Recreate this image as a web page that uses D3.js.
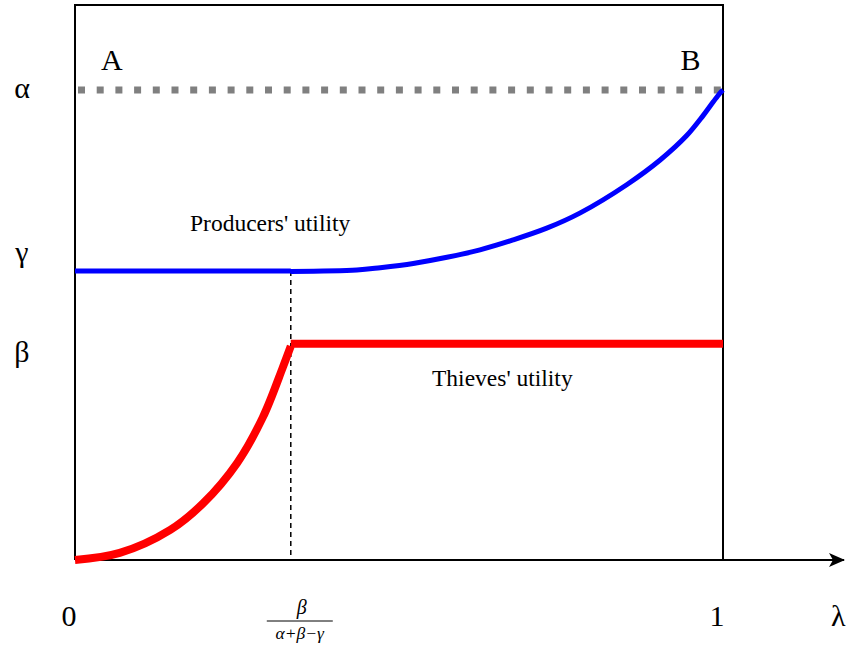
<!DOCTYPE html>
<html><head><meta charset="utf-8">
<script src="https://cdn.jsdelivr.net/npm/d3@7"></script>
<style>body{margin:0;background:#fff}svg{display:block}text{fill:#000}</style>
</head><body><svg id="c" width="849" height="648"></svg>
<script>
// data
const alphaLevel = 1.0, gammaLevel = 0.615, betaLevel = 0.46, lambdaStar = 0.333;
const producersLambda = [0.333, 0.435, 0.471, 0.522, 0.574, 0.625, 0.676, 0.728, 0.779, 0.852, 0.903, 0.944, 0.969, 0.985, 0.995, 1.0];
const producersValue  = [0.614, 0.617, 0.622, 0.631, 0.644, 0.660, 0.681, 0.706, 0.738, 0.799, 0.851, 0.903, 0.945, 0.975, 0.993, 1.0];
const producersFlatLambda = [0, 0.333];
const producersFlatValue = [0.615, 0.615];
const thievesLambda = [0, 0.069, 0.147, 0.198, 0.25, 0.290, 0.321, 0.333];
const thievesValue  = [0, 0.015, 0.064, 0.121, 0.206, 0.304, 0.411, 0.455];
const thievesFlatLambda = [0.333, 1.0];
const thievesFlatValue = [0.46, 0.46];
const yTickLabels = ['α', 'γ', 'β'];
const yTickValues = [alphaLevel, gammaLevel, betaLevel];
const yTickDy = [8, -9, 18];
const xTickLabels = ['0', '1', 'λ'];
const xTickValues = [0, 1, 1.178];
const cornerLabels = ['A', 'B'];
const cornerLambda = [0.057, 0.95];

const FONT = '"Liberation Serif", "Times New Roman", Times, serif';
const svg = d3.select('#c');
const x = d3.scaleLinear().domain([0, 1]).range([75, 723]);
const y = d3.scaleLinear().domain([0, 1]).range([560, 90]);

// frame
svg.append('path').attr('d', `M${x(0)},${y(0)}V5H${x(1)}V${y(0)}`).attr('fill', 'none').attr('stroke', '#000').attr('stroke-width', 2);
// x axis with arrow
svg.append('defs').append('marker').attr('id', 'arr').attr('viewBox', '0 0 16 14').attr('refX', 15).attr('refY', 7)
  .attr('markerWidth', 16).attr('markerHeight', 14).attr('markerUnits', 'userSpaceOnUse').attr('orient', 'auto')
  .append('path').attr('d', 'M0,0L16,7L0,14L4,7Z').attr('fill', '#000');
svg.append('line').attr('x1', x(0)).attr('x2', 844).attr('y1', y(0)).attr('y2', y(0)).attr('stroke', '#000').attr('stroke-width', 2).attr('marker-end', 'url(#arr)');

// alpha dotted line
svg.append('line').attr('x1', x(0) + 3).attr('x2', x(1) - 2).attr('y1', y(alphaLevel)).attr('y2', y(alphaLevel))
  .attr('stroke', '#808080').attr('stroke-width', 7).attr('stroke-dasharray', '7,11.7');

// dashed vertical
svg.append('line').attr('x1', x(lambdaStar)).attr('x2', x(lambdaStar)).attr('y1', y(gammaLevel)).attr('y2', y(0))
  .attr('stroke', '#000').attr('stroke-width', 1.5).attr('stroke-dasharray', '5,4');

const curve = d3.line().x(d => x(d[0])).y(d => y(d[1])).curve(d3.curveCatmullRom.alpha(0.5));
const zip = (a, b) => a.map((l, i) => [l, b[i]]);
svg.append('path').attr('d', curve(zip(producersFlatLambda, producersFlatValue)) + curve(zip(producersLambda, producersValue)))
  .attr('fill', 'none').attr('stroke', '#0000ff').attr('stroke-width', 5);
svg.append('path').attr('d', curve(zip(thievesLambda, thievesValue)))
  .attr('fill', 'none').attr('stroke', '#ff0000').attr('stroke-width', 8);
svg.append('path').attr('d', curve(zip(thievesFlatLambda, thievesFlatValue)))
  .attr('fill', 'none').attr('stroke', '#ff0000').attr('stroke-width', 8);

// labels
const T = (sel) => sel.attr('font-family', FONT);
yTickLabels.forEach((t, i) => T(svg.append('text')).attr('x', 22).attr('y', y(yTickValues[i]) + yTickDy[i])
  .attr('text-anchor', 'middle').attr('font-size', 30).text(t));
xTickLabels.forEach((t, i) => T(svg.append('text')).attr('x', x(xTickValues[i]) + (i === 2 ? 0 : -6)).attr('y', 626)
  .attr('text-anchor', 'middle').attr('font-size', 30).text(t));
cornerLabels.forEach((t, i) => T(svg.append('text')).attr('x', x(cornerLambda[i])).attr('y', 70)
  .attr('text-anchor', 'middle').attr('font-size', 30).text(t));
T(svg.append('text')).attr('x', 190).attr('y', 231).attr('font-size', 23.5).text("Producers' utility");
T(svg.append('text')).attr('x', 432).attr('y', 386).attr('font-size', 23.5).text("Thieves' utility");

// fraction
const fx = x(lambdaStar) + 9;
T(svg.append('text')).attr('x', fx + 2).attr('y', 614).attr('text-anchor', 'middle').attr('font-size', 20).attr('font-style', 'italic').text('β');
svg.append('line').attr('x1', fx - 33).attr('x2', fx + 33).attr('y1', 621).attr('y2', 621).attr('stroke', '#000').attr('stroke-width', 1);
T(svg.append('text')).attr('x', fx).attr('y', 639).attr('text-anchor', 'middle').attr('font-size', 17.5).attr('font-style', 'italic').text('α+β−γ');
</script></body></html>
